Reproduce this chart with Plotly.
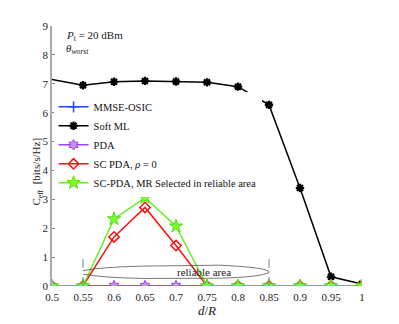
"""Effective capacity versus normalised distance d/R."""

import plotly.graph_objects as go

d_over_r = [0.5, 0.55, 0.6, 0.65, 0.7, 0.75, 0.8, 0.85, 0.9, 0.95, 1.0]
mmse_osic = [0, 0, 0, 0, 0, 0, 0, 0, 0, 0, 0]
soft_ml = [7.15, 6.95, 7.07, 7.1, 7.08, 7.05, 6.9, 6.27, 3.39, 0.32, 0.07]
pda = [0, 0, 0, 0, 0, 0, 0, 0, 0, 0, 0]
sc_pda = [0, 0, 1.7, 2.72, 1.4, 0, 0, 0, 0, 0, 0]
sc_pda_mr = [0, 0, 2.32, 3.06, 2.07, 0, 0, 0, 0, 0, 0]

x_ticks = [0.5, 0.55, 0.6, 0.65, 0.7, 0.75, 0.8, 0.85, 0.9, 0.95, 1.0]
x_labels = ["0.5", "0.55", "0.6", "0.65", "0.7", "0.75", "0.8", "0.85", "0.9", "0.95", "1"]
y_ticks = [0, 1, 2, 3, 4, 5, 6, 7, 8, 9]

reliable_start, reliable_end = 0.55, 0.85

SERIF = "Liberation Serif"

fig = go.Figure()
fig.add_trace(go.Scatter(x=d_over_r, y=mmse_osic, name="MMSE-OSIC", mode="lines+markers",
                         line=dict(color="#2244ff", width=1.5),
                         marker=dict(symbol="cross-thin-open", size=8, line=dict(color="#2244ff", width=1.5))))
fig.add_trace(go.Scatter(x=d_over_r[1:], y=soft_ml[1:], name="Soft ML", mode="lines+markers",
                         line=dict(color="black", width=1.5),
                         marker=dict(symbol="asterisk-open", size=7, line=dict(color="black", width=2.2))))
fig.add_trace(go.Scatter(x=d_over_r[:2], y=soft_ml[:2], mode="lines", showlegend=False,
                         line=dict(color="black", width=1.5), hoverinfo="skip"))
fig.add_trace(go.Scatter(x=d_over_r, y=pda, name="PDA", mode="lines+markers",
                         line=dict(color="#a040ff", width=1.5),
                         marker=dict(symbol="hexagram", size=8, color="#c890ff", line=dict(color="#a040ff", width=1))))
fig.add_trace(go.Scatter(x=d_over_r, y=sc_pda, name="SC PDA, <i>ρ</i> = 0", mode="lines+markers",
                         line=dict(color="#ff1010", width=1.5),
                         marker=dict(symbol="diamond-open", size=8, line=dict(color="#ff1010", width=1.5))))
fig.add_trace(go.Scatter(x=d_over_r, y=sc_pda_mr, name="SC-PDA, MR Selected in reliable area", mode="lines+markers",
                         line=dict(color="#66ee22", width=1.5),
                         marker=dict(symbol="star", size=10, color="#77ff33", line=dict(color="#55dd11", width=1))))

# reliable-area marker: dashed bounds and lens-shaped outline
for xb in (reliable_start, reliable_end):
    fig.add_shape(type="line", x0=xb, x1=xb, y0=0, y1=1.1, xref="x", yref="y",
                  line=dict(color="#666666", width=0.8, dash="dash"))
fig.add_shape(type="path", xref="x", yref="y",
              path="M 0.55,0.53 Q 0.58,0.66 0.65,0.69 L 0.77,0.72 Q 0.85,0.64 0.85,0.48 "
                   "Q 0.84,0.31 0.77,0.27 L 0.65,0.26 Q 0.58,0.29 0.55,0.41",
              line=dict(color="#555555", width=0.8))
fig.add_annotation(x=0.745, y=0.49, xref="x", yref="y", text="reliable area", showarrow=False,
                   font=dict(family=SERIF, size=11, color="#222222"))

fig.add_annotation(x=0.04, y=0.96, xref="paper", yref="paper", xanchor="left", yanchor="middle",
                   text="<i>P</i><sub>t</sub> = 20 dBm", showarrow=False,
                   font=dict(family=SERIF, size=11, color="#222222"))
fig.add_annotation(x=0.04, y=0.91, xref="paper", yref="paper", xanchor="left", yanchor="middle",
                   text="<i>θ</i><sub><i>worst</i></sub>", showarrow=False,
                   font=dict(family=SERIF, size=11, color="#222222"))

# y-axis title placed close to the axis, as in the original
fig.add_annotation(x=0, y=0.44, xref="paper", yref="paper", xanchor="center", yanchor="middle",
                   xshift=-15, textangle=-90, showarrow=False,
                   text="C<sub>eff</sub>  [bits/s/Hz]", font=dict(family=SERIF, size=11, color="#222222"))

# the page body adds an 8px offset, so the figure is 8px smaller on each side
fig.update_layout(
    width=391, height=316, template="plotly_white",
    margin=dict(l=44, r=37, t=16, b=37),
    paper_bgcolor="white", plot_bgcolor="white",
    font=dict(family=SERIF, size=11, color="#222222"),
    legend=dict(x=0.005, y=0.745, xanchor="left", yanchor="top", bgcolor="white",
                borderwidth=0, font=dict(family=SERIF, size=10.5, color="#111111"),
                tracegroupgap=0, itemwidth=30),
    xaxis=dict(range=[0.5, 1.0], tickvals=x_ticks, ticktext=x_labels, showgrid=False, zeroline=False,
               showline=False, ticks="", ticklabelstandoff=3,
               title=dict(text="<i>d</i>/<i>R</i>", standoff=0)),
    yaxis=dict(range=[0, 9], tickvals=y_ticks, showgrid=False, zeroline=False, showline=True,
               linecolor="#aaaaaa", linewidth=1.5, ticks="inside", ticklen=3, tickcolor="#888888"),
)

fig.write_html("out.html")
